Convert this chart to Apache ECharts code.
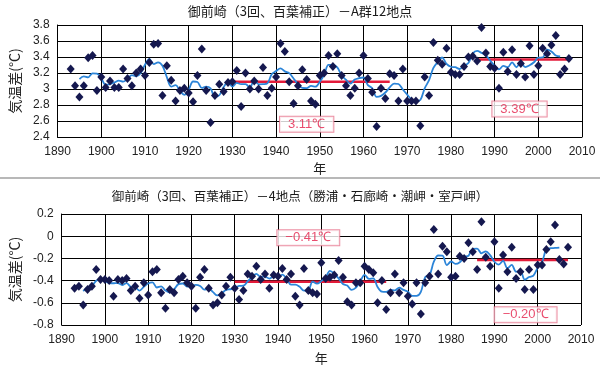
<!DOCTYPE html>
<html><head><meta charset="utf-8">
<script src="https://cdn.jsdelivr.net/npm/echarts@6/dist/echarts.min.js"></script>
<style>html,body{margin:0;padding:0;background:#fff}#c{width:600px;height:374px}</style>
</head><body><div id="c"></div><script>
// ---- data ----
const firstYear = 1893;      // first plotted year (points)
const avgFirstYear = 1895;   // first year of the blue running-mean line

const topTitle = '御前崎（3回、百葉補正）－A群12地点';
const bottomTitle = '御前崎（3回、百葉補正）－4地点（勝浦・石廊崎・潮岬・室戸岬）';

const topValues = [3.25,3.04,2.90,3.04,3.39,3.42,2.98,
3.15,3.02,3.10,3.02,3.02,3.25,3.13,3.04,3.20,3.25,
3.17,3.33,3.56,3.57,2.92,3.29,3.11,2.85,2.98,3.01,
2.95,2.84,3.17,3.50,2.98,2.58,2.92,3.06,2.97,3.08,
3.09,3.23,2.78,3.20,3.00,3.10,3.00,3.27,2.92,3.01,
3.15,3.57,3.47,3.09,2.82,3.04,3.24,3.12,2.85,2.81,
3.17,3.20,3.42,3.28,3.44,3.17,3.04,2.92,3.01,3.20,
3.42,3.13,2.96,2.53,3.01,2.88,3.19,3.17,2.85,3.25,
2.85,2.85,2.85,2.54,3.15,2.92,3.58,3.36,3.31,3.51,
3.21,3.18,3.18,3.28,3.40,3.41,3.35,3.77,3.45,3.28,
3.26,3.01,3.46,3.22,3.49,3.18,3.32,3.15,3.54,3.18,
3.29,3.51,3.44,3.55,3.67,3.18,3.25,3.38];

const topAvg = [3.124,3.158,3.146,3.196,3.192,
3.134,3.054,3.062,3.082,3.104,3.092,3.128,3.174,3.158,3.198,
3.302,3.376,3.31,3.334,3.29,3.148,3.03,3.048,2.98,2.926,
2.99,3.094,3.088,3.014,3.03,3.008,2.902,2.922,3.024,3.086,
3.03,3.076,3.06,3.062,3.016,3.114,3.058,3.06,3.07,3.184,
3.224,3.258,3.22,3.198,3.132,3.062,3.014,3.012,3.038,3.03,
3.09,3.176,3.302,3.302,3.27,3.17,3.116,3.068,3.118,3.136,
3.144,3.048,3.01,2.902,2.914,2.956,3.02,3.068,3.062,2.994,
2.93,2.868,2.848,2.862,3.008,3.11,3.264,3.336,3.394,3.314,
3.278,3.272,3.25,3.29,3.324,3.442,3.476,3.452,3.422,3.354,
3.292,3.246,3.288,3.272,3.334,3.272,3.336,3.274,3.296,3.334,
3.392,3.394,3.492,3.47,3.418,3.406];

const bottomValues = [-0.47,-0.45,-0.62,-0.48,-0.45,-0.30,-0.39,
-0.39,-0.40,-0.54,-0.39,-0.40,-0.38,-0.49,-0.45,-0.56,-0.42,
-0.53,-0.32,-0.30,-0.51,-0.65,-0.48,-0.51,-0.39,-0.36,-0.42,
-0.45,-0.65,-0.37,-0.30,-0.47,-0.62,-0.60,-0.53,-0.45,-0.37,
-0.47,-0.57,-0.49,-0.34,-0.36,-0.27,-0.39,-0.34,-0.47,-0.35,
-0.36,-0.29,-0.39,-0.34,-0.54,-0.62,-0.29,-0.49,-0.51,-0.52,
-0.24,-0.38,-0.37,-0.35,-0.22,-0.37,-0.59,-0.62,-0.42,-0.42,
-0.27,-0.30,-0.33,-0.60,-0.40,-0.66,-0.51,-0.34,-0.51,-0.42,
-0.54,-0.61,-0.42,-0.70,-0.42,-0.36,0.06,-0.34,-0.09,-0.14,
-0.37,-0.36,-0.18,-0.20,-0.06,-0.14,-0.30,0.13,-0.19,-0.27,
-0.05,-0.47,-0.17,-0.32,-0.10,-0.38,-0.32,-0.48,-0.30,-0.48,
-0.26,-0.26,-0.12,-0.05,0.10,-0.21,-0.25,-0.10];

const bottomAvg = [-0.494,-0.46,-0.448,-0.402,-0.386,
-0.404,-0.422,-0.424,-0.422,-0.44,-0.422,-0.456,-0.46,-0.49,-0.456,
-0.426,-0.416,-0.462,-0.452,-0.49,-0.508,-0.478,-0.432,-0.426,-0.454,
-0.45,-0.438,-0.448,-0.482,-0.472,-0.504,-0.534,-0.514,-0.484,-0.478,
-0.47,-0.448,-0.446,-0.406,-0.37,-0.34,-0.366,-0.364,-0.382,-0.362,
-0.372,-0.346,-0.384,-0.436,-0.436,-0.456,-0.49,-0.486,-0.41,-0.428,
-0.404,-0.372,-0.312,-0.338,-0.38,-0.43,-0.444,-0.484,-0.464,-0.406,
-0.348,-0.384,-0.38,-0.458,-0.50,-0.502,-0.484,-0.488,-0.464,-0.484,
-0.50,-0.538,-0.538,-0.502,-0.368,-0.352,-0.23,-0.174,-0.176,-0.26,
-0.228,-0.25,-0.234,-0.188,-0.176,-0.114,-0.112,-0.154,-0.136,-0.17,
-0.23,-0.256,-0.222,-0.288,-0.258,-0.32,-0.316,-0.392,-0.368,-0.356,
-0.284,-0.234,-0.118,-0.108,-0.106,-0.102];

// period means (red lines): start year, end year, level
const topMeanStart = [1930, 1986];
const topMeanEnd   = [1966, 2007];
const topMeanLevel = [3.09, 3.37];
const topMeanText  = ['3.11℃', '3.39℃'];
const topMeanLabelAt = [[1947, 2.56], [1995.7, 2.75]];

const bottomMeanStart = [1930, 1986];
const bottomMeanEnd   = [1965, 2007];
const bottomMeanLevel = [-0.41, -0.215];
const bottomMeanText  = ['−0.41℃', '−0.20℃'];
const bottomMeanLabelAt = [[1947, -0.013], [1997.2, -0.707]];

// ---- build ----
const pts = (arr, y0) => arr.map((v, i) => [y0 + i, v]);
const FONT = 'Liberation Sans, Arial, sans-serif';
const JFONT = '"Noto Sans CJK JP", sans-serif';
const gridLine = { show: true, lineStyle: { color: '#000', width: 1, opacity: 1 } };

function xAx(idx) {
  return { type: 'value', gridIndex: idx, min: 1890, max: 2010, interval: 10,
    axisLine: { lineStyle: { color: '#000', width: 1 } }, axisTick: { show: false },
    splitLine: gridLine,
    axisLabel: { color: '#222', fontSize: 12, fontFamily: FONT, margin: 9, formatter: v => String(v) },
    name: '年', nameLocation: 'middle', nameGap: idx === 0 ? 25 : 27,
    nameTextStyle: { color: '#222', fontSize: 13, fontFamily: JFONT } };
}
function yAx(idx, min, max) {
  return { type: 'value', gridIndex: idx, min: min, max: max, interval: 0.2,
    axisLine: { show: true, lineStyle: { color: '#000', width: 1 } }, axisTick: { show: false },
    splitLine: gridLine,
    axisLabel: { color: '#222', fontSize: 12, fontFamily: FONT, margin: 8,
      formatter: v => String(Math.round(v * 10) / 10) },
    name: '気温差(°C)', nameLocation: 'middle', nameRotate: 90, nameGap: 29,
    nameTextStyle: { color: '#222', fontSize: 14, fontFamily: JFONT } };
}

function panelSeries(idx, vals, avg, mStart, mEnd, mLevel, mText, mAt) {
  const s = [];
  mStart.forEach((a, i) => {
    s.push({ type: 'line', xAxisIndex: idx, yAxisIndex: idx, symbol: 'none', z: 2,
      lineStyle: { color: '#e31b3a', width: 2.5 }, silent: true,
      data: [[a, mLevel[i]], [mEnd[i], mLevel[i]]] });
  });
  s.push({ type: 'line', xAxisIndex: idx, yAxisIndex: idx, symbol: 'none', z: 3, smooth: 0.35,
    lineStyle: { color: '#2b84d8', width: 1.8 }, data: pts(avg, avgFirstYear) });
  s.push({ type: 'scatter', xAxisIndex: idx, yAxisIndex: idx, symbol: 'diamond', symbolSize: [8, 9], z: 4,
    itemStyle: { color: '#15184f', opacity: 1 }, data: pts(vals, firstYear) });
  s.push({ type: 'scatter', xAxisIndex: idx, yAxisIndex: idx, symbolSize: 0, z: 5, silent: true,
    data: mAt.map((p, i) => ({ value: p, name: mText[i] })),
    label: { show: true, position: 'inside', formatter: p => p.name,
      color: '#e3204a', fontSize: 13, fontFamily: FONT,
      backgroundColor: '#fff', borderColor: '#e7738c', borderWidth: 1,
      padding: [1, 8, 0, 8], lineHeight: 14 } });
  return s;
}

const chart = echarts.init(document.getElementById('c'), null, { renderer: 'canvas' });
chart.setOption({
  animation: false,
  backgroundColor: '#fff',
  title: [
    { text: topTitle, left: 'center', top: 1, padding: [4, 0, 0, 18],
      textStyle: { fontSize: 13, fontWeight: 'normal', color: '#1a1a1a', fontFamily: JFONT } },
    { text: bottomTitle, left: 'center', top: 186, padding: [4, 0, 0, 0],
      textStyle: { fontSize: 12.5, fontWeight: 'normal', color: '#1a1a1a', fontFamily: JFONT } }
  ],
  graphic: [{ type: 'rect', shape: { x: 0, y: 177, width: 600, height: 2 },
    style: { fill: '#b8b8b8' }, silent: true }],
  grid: [
    { left: 54, top: 25, width: 528, height: 112 },
    { left: 53, top: 214, width: 528, height: 111 }
  ],
  xAxis: [xAx(0), xAx(1)],
  yAxis: [yAx(0, 2.4, 3.8), yAx(1, -0.8, 0.2)],
  series: [].concat(
    panelSeries(0, topValues, topAvg, topMeanStart, topMeanEnd, topMeanLevel, topMeanText, topMeanLabelAt),
    panelSeries(1, bottomValues, bottomAvg, bottomMeanStart, bottomMeanEnd, bottomMeanLevel, bottomMeanText, bottomMeanLabelAt)
  )
});
</script></body></html>
